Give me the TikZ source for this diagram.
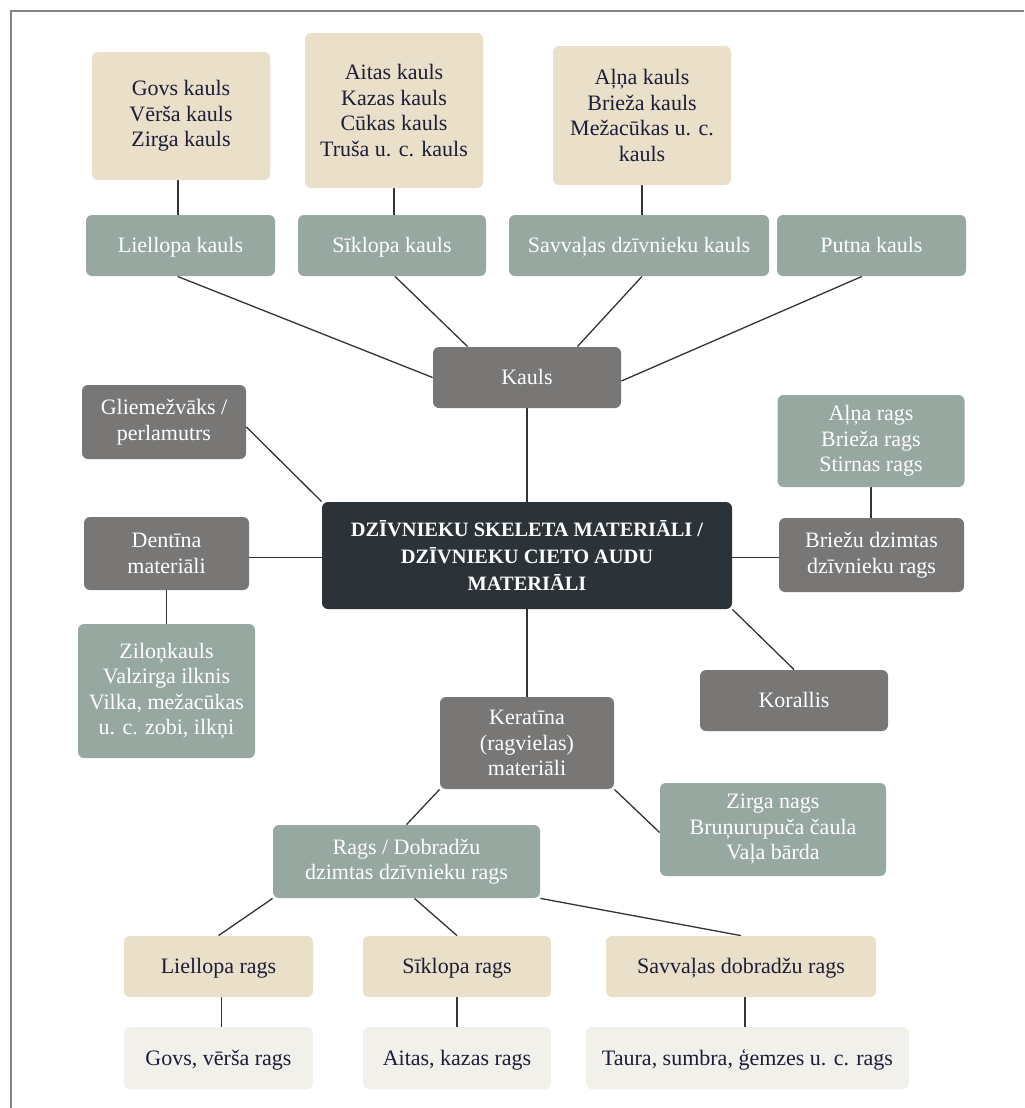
\documentclass[tikz,border=0pt]{standalone}
\usepackage{fontspec}
\setmainfont{Liberation Serif}
\usetikzlibrary{backgrounds}
\definecolor{tanc}{HTML}{EADFC8}
\definecolor{greenc}{HTML}{97A8A0}
\definecolor{darkc}{HTML}{787776}
\definecolor{centerc}{HTML}{2B3338}
\definecolor{lightc}{HTML}{F2F0EA}
\definecolor{navyc}{HTML}{1C1D3A}
\definecolor{linec}{HTML}{333333}
\definecolor{framec}{HTML}{858585}
\tikzset{
  wh/.style 2 args={minimum width=#1*0.5pt, minimum height=#2*0.5pt},
  base/.style={rounded corners=3pt, inner sep=0pt, align=center,
    font=\fontsize{11}{12.75}\selectfont},
  oneline/.style={text height=7pt, text depth=0pt},
  tanbox/.style={base, fill=tanc, text=navyc},
  greenbox/.style={base, fill=greenc, text=white},
  darkbox/.style={base, fill=darkc, text=white},
  lightbox/.style={base, fill=lightc, text=navyc},
  centerbox/.style={base, fill=centerc, text=white,
    font=\fontsize{10.2}{13.5}\selectfont\bfseries},
  conn/.style={draw=linec, line width=0.65pt},
}
\begin{document}
\begin{tikzpicture}[x=0.5pt, y=-0.5pt]
\useasboundingbox (0,0) rectangle (1024,1108);
\draw[framec, line width=0.75pt] (11,1108) -- (11,11) -- (1024,11);

% top tan boxes
\node[tanbox, wh={178}{128}] (tan1) at (181,116) {Govs kauls\\Vērša kauls\\Zirga kauls};
\node[tanbox, wh={178}{155}] (tan2) at (394,110.5) {Aitas kauls\\Kazas kauls\\Cūkas kauls\\Truša u. c. kauls};
\node[tanbox, wh={178}{139}] (tan3) at (642,115.5) {Aļņa kauls\\Brieža kauls\\Mežacūkas u. c.\\kauls};

% green bone types
\node[greenbox, oneline, wh={189}{61}] (lk) at (180.5,245.5) {Liellopa kauls};
\node[greenbox, oneline, wh={188}{61}] (sk) at (392,245.5) {Sīklopa kauls};
\node[greenbox, oneline, wh={260}{61}] (sdk) at (639,245.5) {Savvaļas dzīvnieku kauls};
\node[greenbox, oneline, wh={189}{61}] (pk) at (871.5,245.5) {Putna kauls};

\node[darkbox, oneline, wh={188}{61}] (kauls) at (527,377.5) {Kauls};

\node[centerbox, wh={410}{107}] (center) at (527,555.5) {DZĪVNIEKU SKELETA MATERIĀLI /\\DZĪVNIEKU CIETO AUDU\\MATERIĀLI};

\node[darkbox, wh={164}{74}] (gliem) at (164,422) {Gliemežvāks /\\perlamutrs};
\node[darkbox, wh={165}{73}] (dent) at (166.5,553.5) {Dentīna\\materiāli};
\node[greenbox, wh={177}{134}] (zilon) at (166.5,691) {Ziloņkauls\\Valzirga ilknis\\Vilka, mežacūkas\\u. c. zobi, ilkņi};

\node[greenbox, wh={187}{92}] (alna) at (871,441) {Aļņa rags\\Brieža rags\\Stirnas rags};
\node[darkbox, wh={185}{74}] (briezu) at (871.5,555) {Briežu dzimtas\\dzīvnieku rags};

\node[darkbox, oneline, wh={188}{61}] (koral) at (794,700.5) {Korallis};

\node[darkbox, wh={174}{92}] (kerat) at (527,743) {Keratīna\\(ragvielas)\\materiāli};
\node[greenbox, wh={226}{93}] (zirga) at (773,829.5) {Zirga nags\\Bruņurupuča čaula\\Vaļa bārda};
\node[greenbox, wh={267}{73}] (rags) at (406.5,861.5) {Rags / Dobradžu\\dzimtas dzīvnieku rags};

\node[tanbox, oneline, wh={189}{61}] (lr) at (218.5,966.5) {Liellopa rags};
\node[tanbox, oneline, wh={188}{61}] (sr) at (457,966.5) {Sīklopa rags};
\node[tanbox, oneline, wh={270}{61}] (svr) at (741,966.5) {Savvaļas dobradžu rags};

\node[lightbox, oneline, wh={189}{62}] (gvr) at (218.5,1058) {Govs, vērša rags};
\node[lightbox, oneline, wh={188}{62}] (akr) at (457,1058) {Aitas, kazas rags};
\node[lightbox, oneline, wh={323}{62}] (taura) at (747.5,1058) {Taura, sumbra, ģemzes u. c. rags};

\begin{scope}[on background layer]
\draw[conn] ([xshift=-1.5pt]tan1.south) -- ([xshift=-1.5pt]tan1.south |- lk.north);
\draw[conn] (tan2.south) -- (tan2.south |- sk.north);
\draw[conn] (tan3.south) -- (tan3.south |- sdk.north);
\draw[conn] ([xshift=-1.5pt]lk.south) -- (kauls.west);
\draw[conn] ([xshift=1.5pt]sk.south) -- ([xshift=17.5pt]kauls.north west);
\draw[conn] ([xshift=1.5pt]sdk.south) -- ([xshift=-22pt]kauls.north east);
\draw[conn] ([xshift=-4.75pt]pk.south) -- ([yshift=-1.75pt]kauls.east);
\draw[conn] (kauls.south) -- (center.north);
\draw[conn] ([yshift=-2.5pt]gliem.east) -- (center.north west);
\draw[conn] ([yshift=-2pt]dent.east) -- ([yshift=-2pt]dent.east -| center.west);
\draw[conn] (dent.south) -- (dent.south |- zilon.north);
\draw[conn] ([yshift=-1pt]center.east) -- ([yshift=-1pt]center.east -| briezu.west);
\draw[conn] (alna.south) -- (alna.south |- briezu.north);
\draw[conn] (center.south east) -- (koral.north);
\draw[conn] (center.south) -- (kerat.north);
\draw[conn] (kerat.south west) -- (rags.north);
\draw[conn] (kerat.south east) -- ([yshift=-1.5pt]zirga.west);
\draw[conn] (rags.south west) -- (lr.north);
\draw[conn] ([xshift=4pt]rags.south) -- (sr.north);
\draw[conn] (rags.south east) -- (svr.north);
\draw[conn] ([xshift=1.5pt]lr.south) -- ([xshift=1.5pt]lr.south |- gvr.north);
\draw[conn] (sr.south) -- (sr.south |- akr.north);
\draw[conn] ([xshift=2pt]svr.south) -- ([xshift=2pt]svr.south |- taura.north);
\end{scope}
\end{tikzpicture}
\end{document}
